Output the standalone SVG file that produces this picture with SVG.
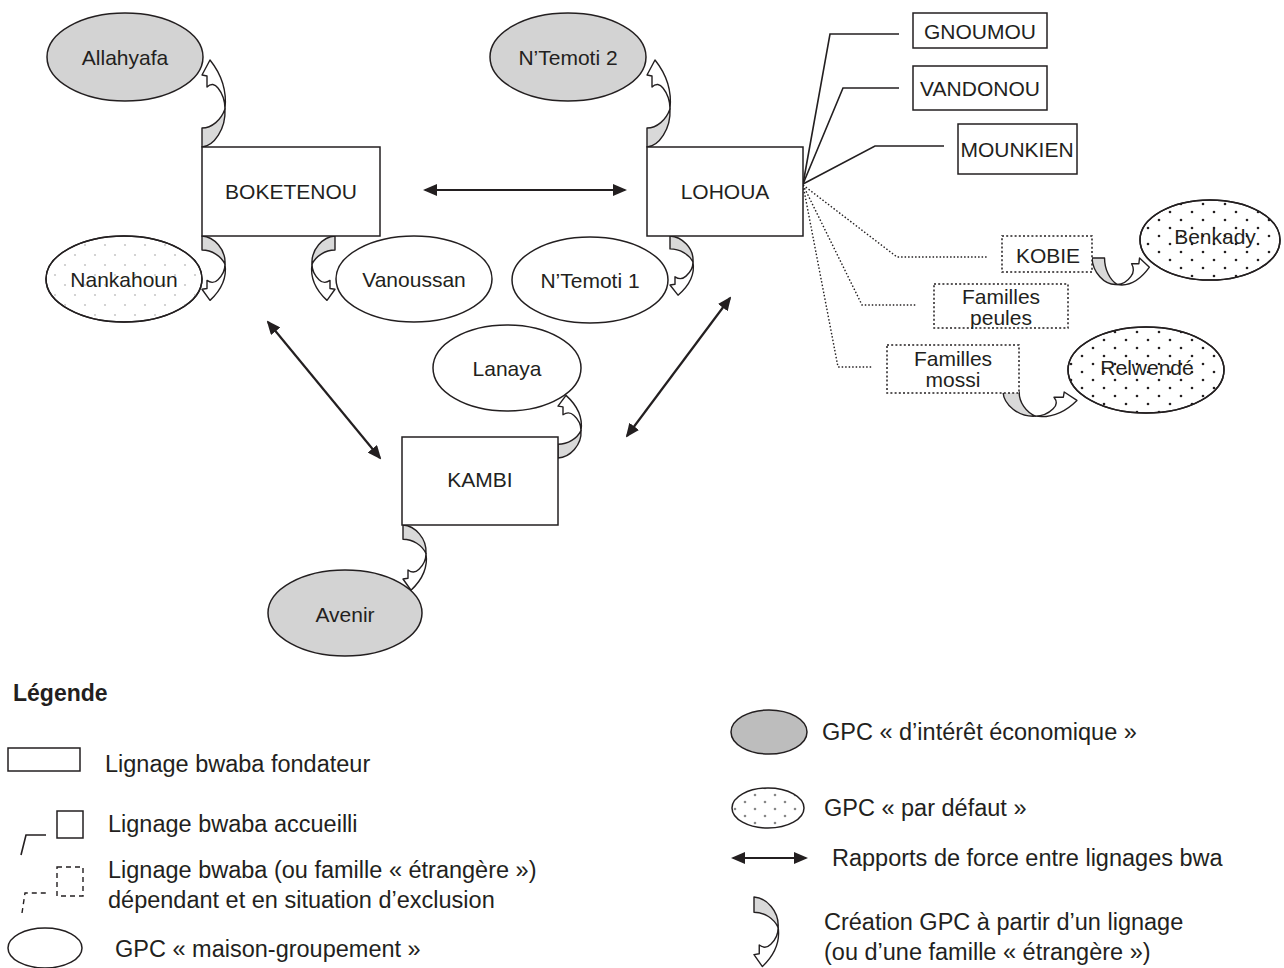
<svg xmlns="http://www.w3.org/2000/svg" width="1284" height="968" viewBox="0 0 1284 968">
<style>
text{font-family:"Liberation Sans",Arial,Helvetica,sans-serif;fill:#231f20}
.n{font-size:21px;text-anchor:middle;dominant-baseline:central}
.lg{font-size:23.5px}
.box{fill:#fff;stroke:#231f20;stroke-width:1.5}
.dbox{fill:#fff;stroke:#231f20;stroke-width:1.5;stroke-dasharray:2 2.2}
.ell{fill:#fff;stroke:#231f20;stroke-width:1.5}
.eco{fill:#d3d3d3;stroke:#231f20;stroke-width:1.5}
.link{fill:none;stroke:#231f20;stroke-width:1.6}
.dlink{fill:none;stroke:#231f20;stroke-width:1.4;stroke-dasharray:1.5 2}
.force{stroke:#231f20;stroke-width:2.2;marker-start:url(#ah);marker-end:url(#ah)}
.cag{fill:#d9d9d9;stroke:#231f20;stroke-width:1.4;stroke-linejoin:round;vector-effect:non-scaling-stroke}
.caw{fill:#fff;stroke:#231f20;stroke-width:1.4;stroke-linejoin:round;vector-effect:non-scaling-stroke}
</style>
<defs>
<marker id="ah" viewBox="0 0 14 12" refX="12" refY="6" markerWidth="14" markerHeight="12" markerUnits="userSpaceOnUse" orient="auto-start-reverse"><path d="M0,0 L14,6 L0,12 Z" fill="#231f20"/></marker>
<pattern id="dotsLight" width="20" height="20" patternUnits="userSpaceOnUse"><circle cx="5" cy="5" r="1.1" fill="#c8c8c8"/><circle cx="15" cy="15" r="1.1" fill="#c8c8c8"/></pattern>
<pattern id="dotsDark" width="22" height="16" patternUnits="userSpaceOnUse"><circle cx="4" cy="4" r="1.3" fill="#231f20"/><circle cx="15" cy="12" r="1.3" fill="#231f20"/></pattern>
<pattern id="dotsLeg" width="20" height="14" patternUnits="userSpaceOnUse"><circle cx="5" cy="4" r="1.3" fill="#888"/><circle cx="15" cy="11" r="1.3" fill="#888"/></pattern>
<g id="ca">
<path class="cag" d="M0,0 L0,-19 C10,-19 19,-27 23,-38 C24,-18 12,-1 0,0 Z"/>
<path class="caw" d="M23,-38 C25,-56 20,-72 8,-87 L0,-72 L5,-71 L5,-60 C9,-64 13,-63 16,-59 C20,-54 23,-47 23,-38 Z"/>
</g>
</defs>
<rect width="1284" height="968" fill="#fff"/>

<g id="connectors">
<polyline class="link" points="803,184 830,34 899,34"/>
<polyline class="link" points="803,184 843,88 899,88"/>
<polyline class="link" points="803,184 875,146 944,146"/>
<polyline class="dlink" points="803,185 897,257 988,257"/>
<polyline class="dlink" points="803,185 862,305 917,305"/>
<polyline class="dlink" points="803,185 838,367 873,367"/>
<line class="force" x1="425" y1="190" x2="625" y2="190"/>
<line class="force" x1="268" y1="322" x2="380" y2="458"/>
<line class="force" x1="730" y1="298" x2="627" y2="436"/>
<use href="#ca" transform="translate(202,147)"/>
<use href="#ca" transform="translate(202,236) scale(1,-0.74)"/>
<use href="#ca" transform="translate(335,236) scale(-1,-0.74)"/>
<use href="#ca" transform="translate(647,147)"/>
<use href="#ca" transform="translate(670,236) scale(1,-0.68)"/>
<use href="#ca" transform="translate(558,458) scale(1,0.72)"/>
<use href="#ca" transform="translate(403,525) scale(1,-0.75)"/>
<use href="#ca" transform="translate(1092,258) rotate(90) scale(1.15,0.66)"/>
<use href="#ca" transform="translate(1003,392) rotate(90) scale(1.05,0.85)"/>
</g>

<g id="allahyafa"><ellipse class="eco" cx="125" cy="57" rx="78" ry="44"/><text class="n" x="125" y="57">Allahyafa</text></g>
<g id="boketenou"><rect class="box" x="202" y="147" width="178" height="89"/><text class="n" x="291" y="191">BOKETENOU</text></g>
<g id="nankahoun"><ellipse class="ell" cx="124" cy="279" rx="78" ry="43"/><ellipse cx="124" cy="279" rx="78" ry="43" fill="url(#dotsLight)" stroke="#231f20" stroke-width="1.5"/><text class="n" x="124" y="279">Nankahoun</text></g>
<g id="vanoussan"><ellipse class="ell" cx="414" cy="279" rx="78" ry="43"/><text class="n" x="414" y="279">Vanoussan</text></g>
<g id="ntemoti1"><ellipse class="ell" cx="590" cy="280" rx="78" ry="43"/><text class="n" x="590" y="280">N’Temoti 1</text></g>
<g id="ntemoti2"><ellipse class="eco" cx="568" cy="57" rx="78" ry="44"/><text class="n" x="568" y="57">N’Temoti 2</text></g>
<g id="lohoua"><rect class="box" x="647" y="147" width="156" height="89"/><text class="n" x="725" y="191">LOHOUA</text></g>
<g id="lanaya"><ellipse class="ell" cx="507" cy="368" rx="74" ry="43"/><text class="n" x="507" y="368">Lanaya</text></g>
<g id="kambi"><rect class="box" x="402" y="437" width="156" height="88"/><text class="n" x="480" y="479">KAMBI</text></g>
<g id="avenir"><ellipse class="eco" cx="345" cy="613" rx="77" ry="43"/><text class="n" x="345" y="614">Avenir</text></g>
<g id="gnoumou"><rect class="box" x="913" y="13" width="134" height="35"/><text class="n" x="980" y="31">GNOUMOU</text></g>
<g id="vandonou"><rect class="box" x="913" y="66" width="134" height="44"/><text class="n" x="980" y="88">VANDONOU</text></g>
<g id="mounkien"><rect class="box" x="958" y="124" width="119" height="50"/><text class="n" x="1017" y="149">MOUNKIEN</text></g>
<g id="kobie"><rect class="dbox" x="1002" y="236" width="90" height="36"/><text class="n" x="1048" y="255">KOBIE</text></g>
<g id="peules"><rect class="dbox" x="934" y="284" width="134" height="44"/><text class="n" x="1001" y="296">Familles</text><text class="n" x="1001" y="317">peules</text></g>
<g id="mossi"><rect class="dbox" x="887" y="345" width="132" height="48"/><text class="n" x="953" y="358">Familles</text><text class="n" x="953" y="379">mossi</text></g>
<g id="benkady"><ellipse class="ell" cx="1210" cy="240" rx="70" ry="40"/><ellipse cx="1210" cy="240" rx="70" ry="40" fill="url(#dotsDark)" stroke="#231f20" stroke-width="1.5"/><text class="n" x="1215" y="236">Benkady</text></g>
<g id="relwende"><ellipse class="ell" cx="1146" cy="370" rx="78" ry="43"/><ellipse cx="1146" cy="370" rx="78" ry="43" fill="url(#dotsDark)" stroke="#231f20" stroke-width="1.5"/><text class="n" x="1147" y="367">Relwendé</text></g>

<g id="legend">
<text x="13" y="701" style="font-size:23px;font-weight:bold">Légende</text>
<rect class="box" x="8" y="748" width="72" height="23"/>
<text class="lg" x="105" y="772">Lignage bwaba fondateur</text>
<path class="link" d="M21,855 L26,835 L46,835"/>
<rect class="box" x="57" y="811" width="26" height="27"/>
<text class="lg" x="108" y="832">Lignage bwaba accueilli</text>
<path d="M22,913 L25,893 L47,893" fill="none" stroke="#231f20" stroke-width="1.4" stroke-dasharray="5 4"/>
<rect x="57" y="867" width="26" height="29" fill="#fff" stroke="#231f20" stroke-width="1.4" stroke-dasharray="5 4"/>
<text class="lg" x="108" y="878">Lignage bwaba (ou famille « étrangère »)</text>
<text class="lg" x="108" y="908">dépendant et en situation d’exclusion</text>
<ellipse class="ell" cx="45" cy="948" rx="37" ry="20"/>
<text class="lg" x="115" y="957">GPC « maison-groupement »</text>

<ellipse cx="769" cy="732" rx="38" ry="22" fill="#bdbdbd" stroke="#231f20" stroke-width="1.5"/>
<text class="lg" x="822" y="740">GPC « d’intérêt économique »</text>
<ellipse cx="768" cy="808" rx="36" ry="20" fill="url(#dotsLeg)" stroke="#231f20" stroke-width="1.5"/>
<text class="lg" x="824" y="816">GPC « par défaut »</text>
<line class="force" x1="733" y1="858" x2="806" y2="858"/>
<text class="lg" x="832" y="866">Rapports de force entre lignages bwa</text>
<use href="#ca" transform="translate(754,897) scale(1.05,-0.8)"/>
<text class="lg" x="824" y="930">Création GPC à partir d’un lignage</text>
<text class="lg" x="824" y="960">(ou d’une famille « étrangère »)</text>
</g>
</svg>
